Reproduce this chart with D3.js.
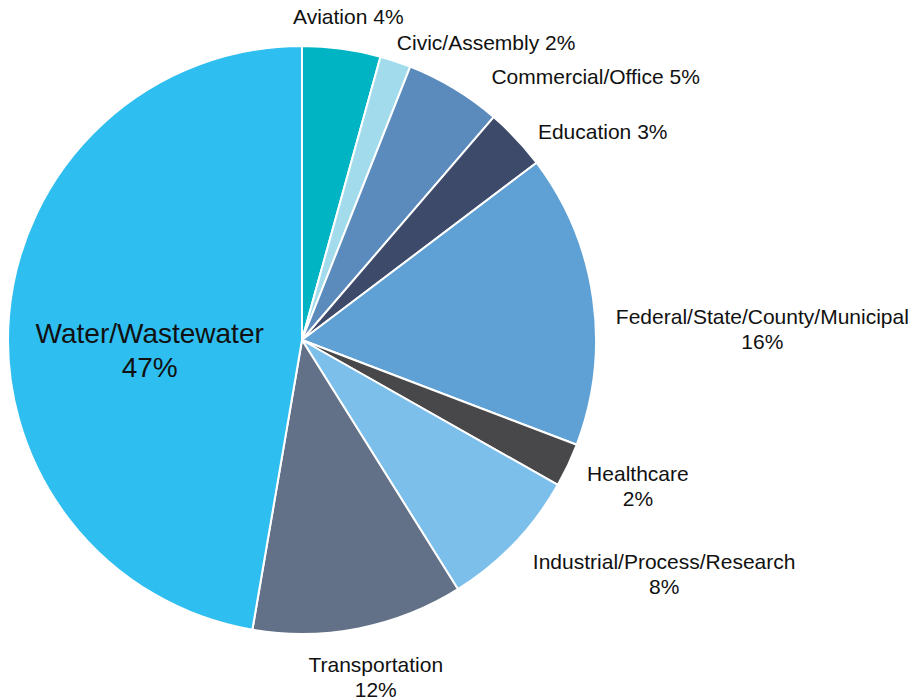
<!DOCTYPE html>
<html>
<head>
<meta charset="utf-8">
<script src="https://cdn.jsdelivr.net/npm/d3@7"></script>
<style>
  body { margin: 0; background: #fff; }
  text { font-family: "Liberation Sans", Arial, sans-serif; fill: #111; }
</style>
</head>
<body>
<div id="d3-container"></div>
<script>
/**
 * DATA
 * */
const categories = ["Aviation", "Civic/Assembly", "Commercial/Office", "Education",
  "Federal/State/County/Municipal", "Healthcare", "Industrial/Process/Research",
  "Transportation", "Water/Wastewater"];
const shares = [4.3, 1.7, 5.3, 3.4, 16.1, 2.4, 7.9, 11.6, 47.3];
const colors = ["#00b4c3", "#a2dcec", "#5b8bbd", "#3d4a6a", "#5fa1d4",
  "#48484a", "#7cbfea", "#627187", "#2ebef0"];
// labels written on one line vs two lines
const oneLine = ["Aviation", "Civic/Assembly", "Commercial/Office", "Education"];

/**
 * CONSTANTS
 * */
const width = 918,
  height = 700,
  cx = 302,
  cy = 340,
  radius = 294;

// labels sit a bit off the simple rule, small shifts
const nudge = {
  "Aviation": [4, 0],
  "Civic/Assembly": [-5, 0],
  "Commercial/Office": [27, 5],
  "Education": [7, 6],
  "Federal/State/County/Municipal": [3, 21],
  "Healthcare": [1, 0],
  "Industrial/Process/Research": [4, 4],
  "Transportation": [13, 8]
};

const data = categories.map((c, i) => ({ name: c, value: shares[i], color: colors[i] }));

const svg = d3.select("#d3-container")
  .append("svg")
  .attr("width", width)
  .attr("height", height);

const g = svg.append("g").attr("transform", `translate(${cx},${cy})`);

const pie = d3.pie().value(d => d.value).sort(null);
const arc = d3.arc().innerRadius(0).outerRadius(radius);
const arcs = pie(data);

g.selectAll(".slice")
  .data(arcs)
  .join("path")
  .attr("class", "slice")
  .attr("d", arc)
  .attr("fill", d => d.data.color)
  .attr("stroke", "#fff")
  .attr("stroke-width", 2)
  .attr("stroke-linejoin", "round");

const fmt = v => Math.round(v) + "%";

arcs.forEach(d => {
  const a = (d.startAngle + d.endAngle) / 2;
  const name = d.data.name;
  const pct = fmt(d.data.value);
  const lab = g.append("text");

  if (name === "Water/Wastewater") {
    const r = radius * 0.52;
    const x = Math.sin(a) * r, y = -Math.cos(a) * r;
    lab.attr("text-anchor", "middle").style("font-size", "28px");
    lab.append("tspan").attr("x", x).attr("y", y + 16).text(name);
    lab.append("tspan").attr("x", x).attr("y", y + 50).text(pct);
    return;
  }

  const r = radius + 20;
  const [nx, ny] = nudge[name] || [0, 0];
  const x = Math.sin(a) * r + nx, y = -Math.cos(a) * r + ny;
  const top = Math.abs(Math.sin(a)) < 0.25;
  lab.style("font-size", "21px");

  if (oneLine.includes(name)) {
    if (top) {
      lab.attr("text-anchor", "middle").attr("x", x).attr("y", y - 5).text(name + " " + pct);
    } else {
      lab.attr("text-anchor", "start").attr("x", x).attr("y", y + 7.5).text(name + " " + pct);
    }
    return;
  }

  // two lines, centred on each other
  const t1 = lab.append("tspan").text(name);
  const w = t1.node().getComputedTextLength();
  let mid, base;
  if (top) {
    mid = x;
    base = y + 16;
  } else {
    mid = x + w / 2;
    base = y + 7.5;
  }
  lab.attr("text-anchor", "middle");
  t1.attr("x", mid).attr("y", base);
  lab.append("tspan").attr("x", mid).attr("y", base + 25).text(pct);
});
</script>
</body>
</html>
